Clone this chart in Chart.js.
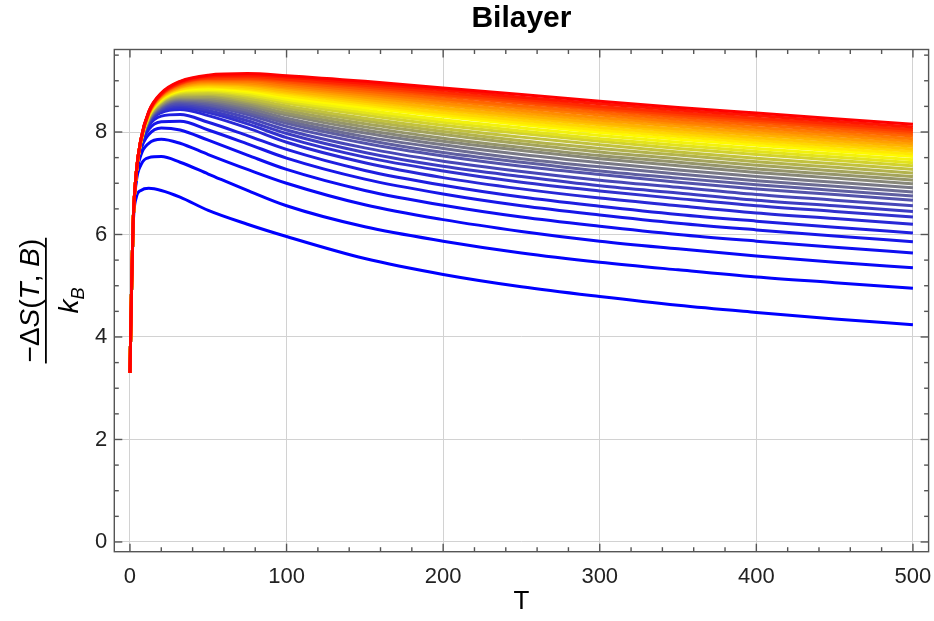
<!DOCTYPE html>
<html>
<head>
<meta charset="utf-8">
<title>Bilayer</title>
<script src="https://cdn.jsdelivr.net/npm/chart.js@4.4.1/dist/chart.umd.min.js"></script>
<style>
  html, body { margin: 0; padding: 0; background: #fff; }
  canvas { display: block; }
</style>
</head>
<body>
<canvas id="entropy-chart" width="934" height="621"></canvas>
<script>
// Temperature samples shared by every curve
const temps = [0, 1, 2, 4, 7, 12, 20, 32, 50, 75, 100, 150, 200, 250, 300, 350, 400, 450, 500];

// -dS(T,B)/kB, one curve per field value, lowest field first
const curve01 = [3.3, 4.9, 6.15, 6.72, 6.86, 6.90, 6.86, 6.73, 6.47, 6.20, 5.96, 5.53, 5.22, 4.98, 4.79, 4.62, 4.48, 4.35, 4.24];
const curve02 = [3.3, 4.9, 6.2, 7.02, 7.36, 7.50, 7.52, 7.41, 7.18, 6.86, 6.56, 6.15, 5.87, 5.64, 5.46, 5.31, 5.17, 5.06, 4.95];
const curve03 = [3.3, 4.9, 6.2, 7.10, 7.55, 7.78, 7.86, 7.78, 7.56, 7.27, 7.00, 6.58, 6.29, 6.06, 5.87, 5.72, 5.58, 5.46, 5.35];
const curve04 = [3.3, 4.9, 6.2, 7.14, 7.65, 7.95, 8.08, 8.04, 7.84, 7.55, 7.27, 6.86, 6.57, 6.34, 6.16, 6.00, 5.87, 5.75, 5.64];
const curve05 = [3.3, 4.9, 6.2, 7.16, 7.71, 8.05, 8.20, 8.21, 8.04, 7.77, 7.49, 7.08, 6.79, 6.56, 6.38, 6.22, 6.09, 5.97, 5.86];
const curve06 = [3.3, 4.9, 6.2, 7.17, 7.75, 8.12, 8.31, 8.34, 8.19, 7.93, 7.66, 7.25, 6.96, 6.73, 6.55, 6.39, 6.26, 6.14, 6.03];
const curve07 = [3.3, 4.9, 6.2, 7.18, 7.78, 8.17, 8.38, 8.44, 8.32, 8.08, 7.80, 7.40, 7.11, 6.89, 6.71, 6.56, 6.42, 6.31, 6.20];
const curve08 = [3.3, 4.9, 6.2, 7.18, 7.79, 8.19, 8.41, 8.48, 8.38, 8.16, 7.89, 7.51, 7.24, 7.02, 6.85, 6.70, 6.56, 6.45, 6.34];
const curve09 = [3.3, 4.9, 6.2, 7.18, 7.79, 8.20, 8.43, 8.51, 8.42, 8.22, 7.97, 7.60, 7.33, 7.13, 6.95, 6.81, 6.67, 6.56, 6.45];
const curve10 = [3.3, 4.9, 6.2, 7.18, 7.80, 8.21, 8.45, 8.54, 8.47, 8.28, 8.04, 7.69, 7.43, 7.23, 7.06, 6.92, 6.78, 6.67, 6.56];
const curve11 = [3.3, 4.9, 6.2, 7.18, 7.80, 8.23, 8.47, 8.57, 8.51, 8.34, 8.11, 7.78, 7.53, 7.33, 7.17, 7.02, 6.89, 6.78, 6.67];
const curve12 = [3.3, 4.9, 6.2, 7.19, 7.80, 8.24, 8.49, 8.60, 8.54, 8.38, 8.17, 7.85, 7.60, 7.41, 7.24, 7.10, 6.97, 6.86, 6.75];
const curve13 = [3.3, 4.9, 6.2, 7.19, 7.81, 8.24, 8.50, 8.62, 8.58, 8.42, 8.22, 7.91, 7.68, 7.48, 7.32, 7.18, 7.05, 6.94, 6.83];
const curve14 = [3.3, 4.9, 6.2, 7.19, 7.81, 8.25, 8.52, 8.64, 8.61, 8.47, 8.27, 7.98, 7.75, 7.56, 7.40, 7.26, 7.13, 7.02, 6.91];
const curve15 = [3.3, 4.9, 6.2, 7.19, 7.81, 8.26, 8.53, 8.66, 8.64, 8.51, 8.33, 8.04, 7.82, 7.64, 7.48, 7.34, 7.21, 7.10, 6.99];
const curve16 = [3.3, 4.9, 6.2, 7.19, 7.82, 8.27, 8.55, 8.68, 8.67, 8.55, 8.37, 8.10, 7.88, 7.70, 7.54, 7.41, 7.28, 7.17, 7.06];
const curve17 = [3.3, 4.9, 6.2, 7.19, 7.82, 8.28, 8.56, 8.70, 8.70, 8.59, 8.42, 8.16, 7.95, 7.77, 7.61, 7.48, 7.35, 7.24, 7.13];
const curve18 = [3.3, 4.9, 6.2, 7.19, 7.82, 8.29, 8.58, 8.72, 8.73, 8.62, 8.47, 8.22, 8.01, 7.83, 7.68, 7.55, 7.42, 7.31, 7.20];
const curve19 = [3.3, 4.9, 6.2, 7.19, 7.82, 8.30, 8.59, 8.74, 8.75, 8.66, 8.51, 8.27, 8.07, 7.90, 7.75, 7.61, 7.49, 7.38, 7.27];
const curve20 = [3.3, 4.9, 6.2, 7.19, 7.83, 8.31, 8.60, 8.76, 8.78, 8.70, 8.56, 8.33, 8.13, 7.97, 7.82, 7.68, 7.56, 7.45, 7.34];
const curve21 = [3.3, 4.9, 6.2, 7.19, 7.83, 8.31, 8.61, 8.78, 8.81, 8.73, 8.60, 8.38, 8.19, 8.02, 7.87, 7.74, 7.62, 7.51, 7.40];
const curve22 = [3.3, 4.9, 6.2, 7.19, 7.83, 8.32, 8.63, 8.80, 8.83, 8.77, 8.64, 8.43, 8.24, 8.08, 7.93, 7.80, 7.68, 7.57, 7.46];
const curve23 = [3.3, 4.9, 6.2, 7.19, 7.83, 8.33, 8.64, 8.81, 8.86, 8.80, 8.68, 8.48, 8.30, 8.14, 7.99, 7.86, 7.74, 7.63, 7.52];
const curve24 = [3.3, 4.9, 6.2, 7.19, 7.84, 8.33, 8.65, 8.83, 8.88, 8.83, 8.71, 8.52, 8.34, 8.18, 8.04, 7.91, 7.79, 7.68, 7.57];
const curve25 = [3.3, 4.9, 6.2, 7.19, 7.84, 8.34, 8.66, 8.84, 8.90, 8.85, 8.75, 8.56, 8.38, 8.23, 8.09, 7.96, 7.84, 7.73, 7.62];
const curve26 = [3.3, 4.9, 6.2, 7.20, 7.84, 8.34, 8.67, 8.86, 8.92, 8.88, 8.78, 8.60, 8.43, 8.28, 8.14, 8.01, 7.89, 7.78, 7.67];
const curve27 = [3.3, 4.9, 6.2, 7.20, 7.84, 8.35, 8.68, 8.87, 8.94, 8.91, 8.81, 8.64, 8.47, 8.32, 8.18, 8.06, 7.94, 7.83, 7.72];
const curve28 = [3.3, 4.9, 6.2, 7.20, 7.84, 8.36, 8.69, 8.88, 8.96, 8.93, 8.85, 8.68, 8.52, 8.37, 8.23, 8.11, 7.99, 7.88, 7.77];
const curve29 = [3.3, 4.9, 6.2, 7.20, 7.85, 8.36, 8.70, 8.90, 8.98, 8.96, 8.88, 8.72, 8.56, 8.42, 8.28, 8.16, 8.04, 7.93, 7.82];
const curve30 = [3.3, 4.9, 6.2, 7.20, 7.85, 8.37, 8.71, 8.91, 9.00, 8.99, 8.91, 8.76, 8.61, 8.47, 8.33, 8.20, 8.09, 7.98, 7.87];
const curve31 = [3.3, 4.9, 6.2, 7.20, 7.85, 8.37, 8.72, 8.93, 9.02, 9.02, 8.95, 8.80, 8.65, 8.51, 8.38, 8.25, 8.14, 8.03, 7.92];
const curve32 = [3.3, 4.9, 6.2, 7.20, 7.85, 8.38, 8.73, 8.94, 9.04, 9.04, 8.98, 8.84, 8.70, 8.56, 8.43, 8.30, 8.19, 8.08, 7.97];
const curve33 = [3.3, 4.9, 6.2, 7.20, 7.85, 8.38, 8.73, 8.95, 9.05, 9.06, 9.01, 8.88, 8.73, 8.60, 8.46, 8.34, 8.23, 8.12, 8.01];
const curve34 = [3.3, 4.9, 6.2, 7.20, 7.86, 8.39, 8.74, 8.96, 9.07, 9.09, 9.03, 8.91, 8.77, 8.64, 8.50, 8.38, 8.27, 8.16, 8.05];
const curve35 = [3.3, 4.9, 6.2, 7.20, 7.86, 8.39, 8.75, 8.98, 9.09, 9.11, 9.07, 8.95, 8.82, 8.68, 8.55, 8.43, 8.32, 8.21, 8.10];
const curve36 = [3.3, 4.9, 6.2, 7.20, 7.86, 8.40, 8.76, 8.99, 9.11, 9.14, 9.10, 8.99, 8.86, 8.73, 8.60, 8.48, 8.37, 8.26, 8.15];

const curves = [
  curve01, curve02, curve03, curve04, curve05, curve06, curve07, curve08, curve09,
  curve10, curve11, curve12, curve13, curve14, curve15, curve16, curve17, curve18,
  curve19, curve20, curve21, curve22, curve23, curve24, curve25, curve26, curve27,
  curve28, curve29, curve30, curve31, curve32, curve33, curve34, curve35, curve36
];

// Axis ticks
const xMajorTicks = [0, 100, 200, 300, 400, 500];
const yMajorTicks = [0, 2, 4, 6, 8];
const xMinorStep = 20;
const yMinorStep = 0.5;

const FONT = '"Liberation Sans", Arial, sans-serif';

// blue -> yellow -> red along the field index
function curveColor(i, n) {
  const f = Math.pow(i / (n - 1), 1.45);
  let r, g, b;
  if (f < 0.5) {
    const t = f / 0.5;
    r = 255 * t; g = 255 * t; b = 255 * (1 - t);
  } else {
    const t = (f - 0.5) / 0.5;
    r = 255; g = 255 * (1 - t); b = 0;
  }
  return `rgb(${Math.round(r)}, ${Math.round(g)}, ${Math.round(b)})`;
}

const datasets = curves.map((vals, i) => ({
  data: vals.map((v, k) => ({ x: temps[k], y: v })),
  borderColor: curveColor(i, curves.length),
  borderWidth: 3,
  pointRadius: 0,
  fill: false,
  cubicInterpolationMode: 'monotone',
  order: curves.length - i   // higher field drawn on top
}));

// Frame with inward ticks on all four sides, plus the fraction-style y label
const framePlugin = {
  id: 'framePlugin',
  afterDraw(chart) {
    const { ctx, chartArea: a, scales: { x, y } } = chart;
    ctx.save();
    ctx.strokeStyle = '#555';
    ctx.lineWidth = 1.4;

    const seg = (x1, y1, x2, y2) => {
      ctx.beginPath(); ctx.moveTo(x1, y1); ctx.lineTo(x2, y2); ctx.stroke();
    };

    for (let v = 0; v <= 500; v += xMinorStep) {
      const px = x.getPixelForValue(v);
      const len = xMajorTicks.includes(v) ? 8 : 4.5;
      seg(px, a.bottom, px, a.bottom - len);
      seg(px, a.top, px, a.top + len);
    }
    for (let v = 0; v <= 9.5; v += yMinorStep) {
      const py = y.getPixelForValue(v);
      const len = yMajorTicks.includes(v) ? 8 : 4.5;
      seg(a.left, py, a.left + len, py);
      seg(a.right, py, a.right - len, py);
    }
    ctx.strokeRect(a.left, a.top, a.right - a.left, a.bottom - a.top);

    // y axis label: -ΔS(T, B) over k_B, rotated
    const cy = (a.top + a.bottom) / 2;
    ctx.translate(0, cy);
    ctx.rotate(-Math.PI / 2);
    ctx.fillStyle = '#000';
    ctx.textBaseline = 'alphabetic';
    const up = '28px ' + FONT;
    const it = 'italic 28px ' + FONT;
    const parts = [
      ['\u2212\u0394', up], ['S', it], ['(', up], ['T', it], [', ', up], ['B', it], [')', up]
    ];
    let total = 0;
    parts.forEach(p => { ctx.font = p[1]; total += ctx.measureText(p[0]).width; });
    let px = -total / 2;
    parts.forEach(p => {
      ctx.font = p[1];
      ctx.fillText(p[0], px, 39);
      px += ctx.measureText(p[0]).width;
    });
    ctx.fillRect(-total / 2 - 1, 45, total + 2, 1.8);
    ctx.font = 'italic 28px ' + FONT;
    const kw = ctx.measureText('k').width;
    ctx.font = 'italic 18px ' + FONT;
    const bw = ctx.measureText('B').width;
    const start = -(kw + bw) / 2;
    ctx.font = 'italic 28px ' + FONT;
    ctx.fillText('k', start, 78);
    ctx.font = 'italic 18px ' + FONT;
    ctx.fillText('B', start + kw, 84);
    ctx.restore();
  }
};

new Chart(document.getElementById('entropy-chart').getContext('2d'), {
  type: 'line',
  data: { datasets: datasets },
  options: {
    responsive: false,
    animation: false,
    events: [],
    layout: { padding: { left: 0, right: 5.4, top: 0, bottom: 0 } },
    plugins: {
      legend: { display: false },
      tooltip: { enabled: false },
      title: {
        display: true,
        text: 'Bilayer',
        fullSize: false,
        color: '#000',
        font: { family: FONT, size: 30, weight: 'bold', lineHeight: 1.2 },
        padding: { top: 1, bottom: 12.5 }
      }
    },
    scales: {
      x: {
        type: 'linear',
        min: -10,
        max: 510,
        afterFit: s => { s.height = 69.3; s.paddingLeft = 0; s.paddingRight = 0; },
        afterBuildTicks: s => { s.ticks = xMajorTicks.map(v => ({ value: v })); },
        grid: { color: '#d2d2d2', lineWidth: 1, drawTicks: false },
        border: { display: false },
        ticks: {
          padding: 12,
          color: '#222',
          maxRotation: 0,
          font: { family: FONT, size: 22 }
        },
        title: {
          display: true,
          text: 'T',
          color: '#000',
          font: { family: FONT, size: 26, lineHeight: 1.2 },
          padding: { top: 0, bottom: 3.4 }
        }
      },
      y: {
        type: 'linear',
        min: -0.19,
        max: 9.61,
        afterFit: s => { s.width = 114.3; s.paddingTop = 0; s.paddingBottom = 0; },
        afterBuildTicks: s => { s.ticks = yMajorTicks.map(v => ({ value: v })); },
        grid: { color: '#d2d2d2', lineWidth: 1, drawTicks: false },
        border: { display: false },
        ticks: {
          padding: 7,
          color: '#222',
          font: { family: FONT, size: 22 }
        }
      }
    }
  },
  plugins: [framePlugin]
});
</script>
</body>
</html>
